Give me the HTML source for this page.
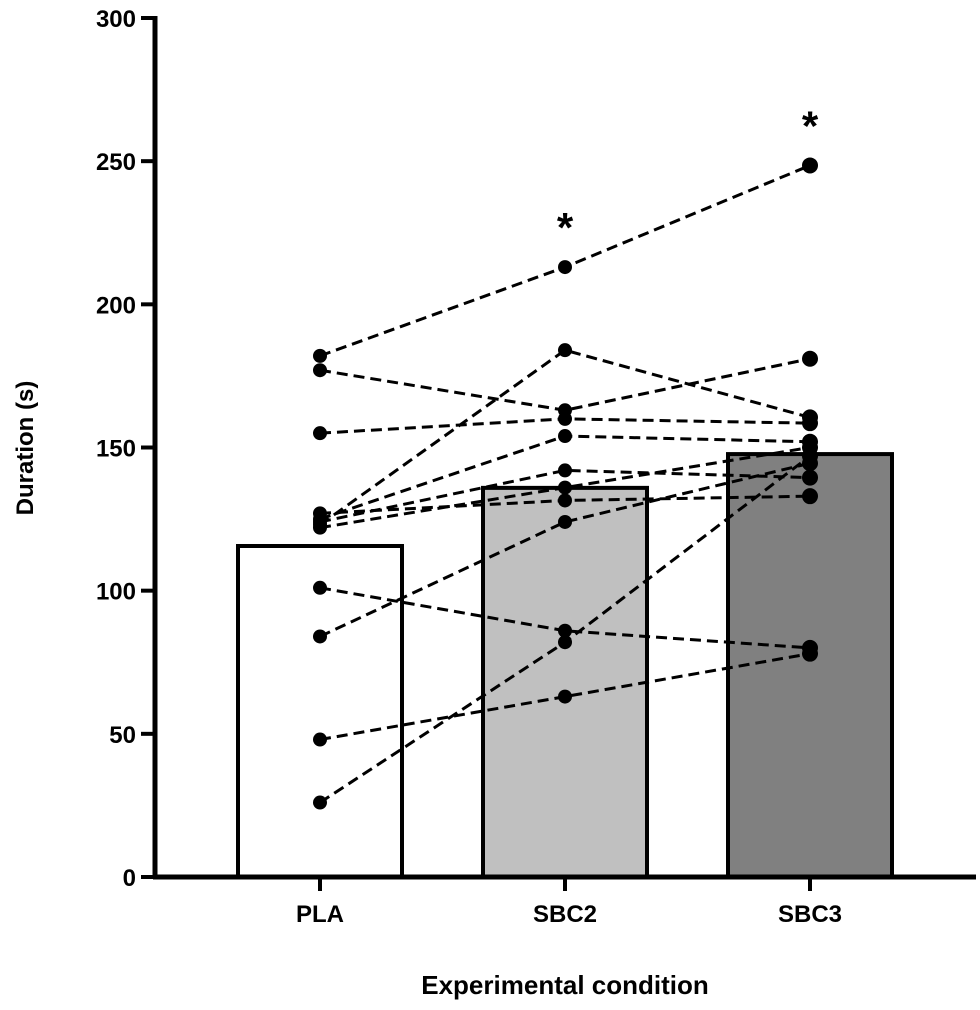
<!DOCTYPE html>
<html><head><meta charset="utf-8"><style>
html,body{margin:0;padding:0;background:#fff;}
svg{display:block;font-family:"Liberation Sans",Arial,sans-serif;font-weight:bold;}
</style></head><body>
<svg id="chart" width="980" height="1010" viewBox="0 0 980 1010"></svg>
<script>
const categories = ["PLA","SBC2","SBC3"];
const barMeans = [115.6, 135.9, 147.7];
const barFills = ["#ffffff","#c0c0c0","#808080"];
const plaValues  = [182, 177, 123, 155, 125, 124, 122, 127, 84, 101, 26, 48];
const sbc2Values = [213, 163, 184, 160, 154, 142, 136, 131.5, 124, 86, 82, 63];
const sbc3Values = [248.5, 181, 160.5, 158.5, 152, 139.5, 150, 133, 144.5, 80, 147, 78];
const yTicks = [0, 50, 100, 150, 200, 250, 300];
const sigMarks = [null, "*", "*"];

const NS = "http://www.w3.org/2000/svg";
const svg = document.getElementById("chart");
const y0 = 877, y300 = 18;
function yScale(v){ return y0 - (v/300)*(y0-y300); }
const xCenters = [320, 565, 810];
function xScale(i){ return xCenters[i]; }
function mk(tag, attrs, parent){
  const e = document.createElementNS(NS, tag);
  for (const k in attrs) e.setAttribute(k, attrs[k]);
  (parent||svg).appendChild(e);
  return e;
}

const barW = 164;
barMeans.forEach((m,i)=>{
  const r = mk("rect",{x:xScale(i)-barW/2, y:yScale(m), width:barW, height:y0-yScale(m), fill:barFills[i], stroke:"#000","stroke-width":4});
  
  
});

const yAxis = mk("line",{x1:155,y1:16,x2:155,y2:879,stroke:"#000","stroke-width":5});


const xAxis = mk("line",{x1:153,y1:877,x2:976,y2:877,stroke:"#000","stroke-width":5});



yTicks.forEach(t=>{
  const y = yScale(t);
  const tk = mk("line",{x1:141,y1:y,x2:155,y2:y,stroke:"#000","stroke-width":4});
  
  
  const lb = mk("text",{x:136,y:y+9,"text-anchor":"end","font-size":24});
  lb.textContent = t;
  
  
});
categories.forEach((c,i)=>{
  const x = xScale(i);
  const tk = mk("line",{x1:x,y1:877,x2:x,y2:891,stroke:"#000","stroke-width":4});
  
  
  const lb = mk("text",{x:x,y:922,"text-anchor":"middle","font-size":24});
  lb.textContent = c;
  
  
});

const series = [plaValues, sbc2Values, sbc3Values];
for (let s=0; s<plaValues.length; s++){
  const pts = series.map((arr,i)=>xScale(i)+","+yScale(arr[s])).join(" ");
  const pl = mk("polyline",{points:pts,fill:"none",stroke:"#000","stroke-width":3,"stroke-dasharray":"11,6"});
  
  
}
series.forEach((arr,i)=>{
  arr.forEach(v=>{
    const c = mk("circle",{cx:xScale(i),cy:yScale(v),r:i===2?8:7,fill:"#000"});
    
    
  });
});

sigMarks.forEach((m,i)=>{
  if(!m) return;
  const top = Math.max(...series[i]);
  const t = mk("text",{x:xScale(i),y:yScale(top)-25,"text-anchor":"middle","font-size":42});
  t.textContent = m;
  
  
});

const xt = mk("text",{x:565,y:994,"text-anchor":"middle","font-size":26});
xt.textContent = "Experimental condition";


const yt = mk("text",{x:0,y:0,"text-anchor":"middle","font-size":24,transform:"translate(33,448) rotate(-90)"});
yt.textContent = "Duration (s)";


</script>
</body></html>
